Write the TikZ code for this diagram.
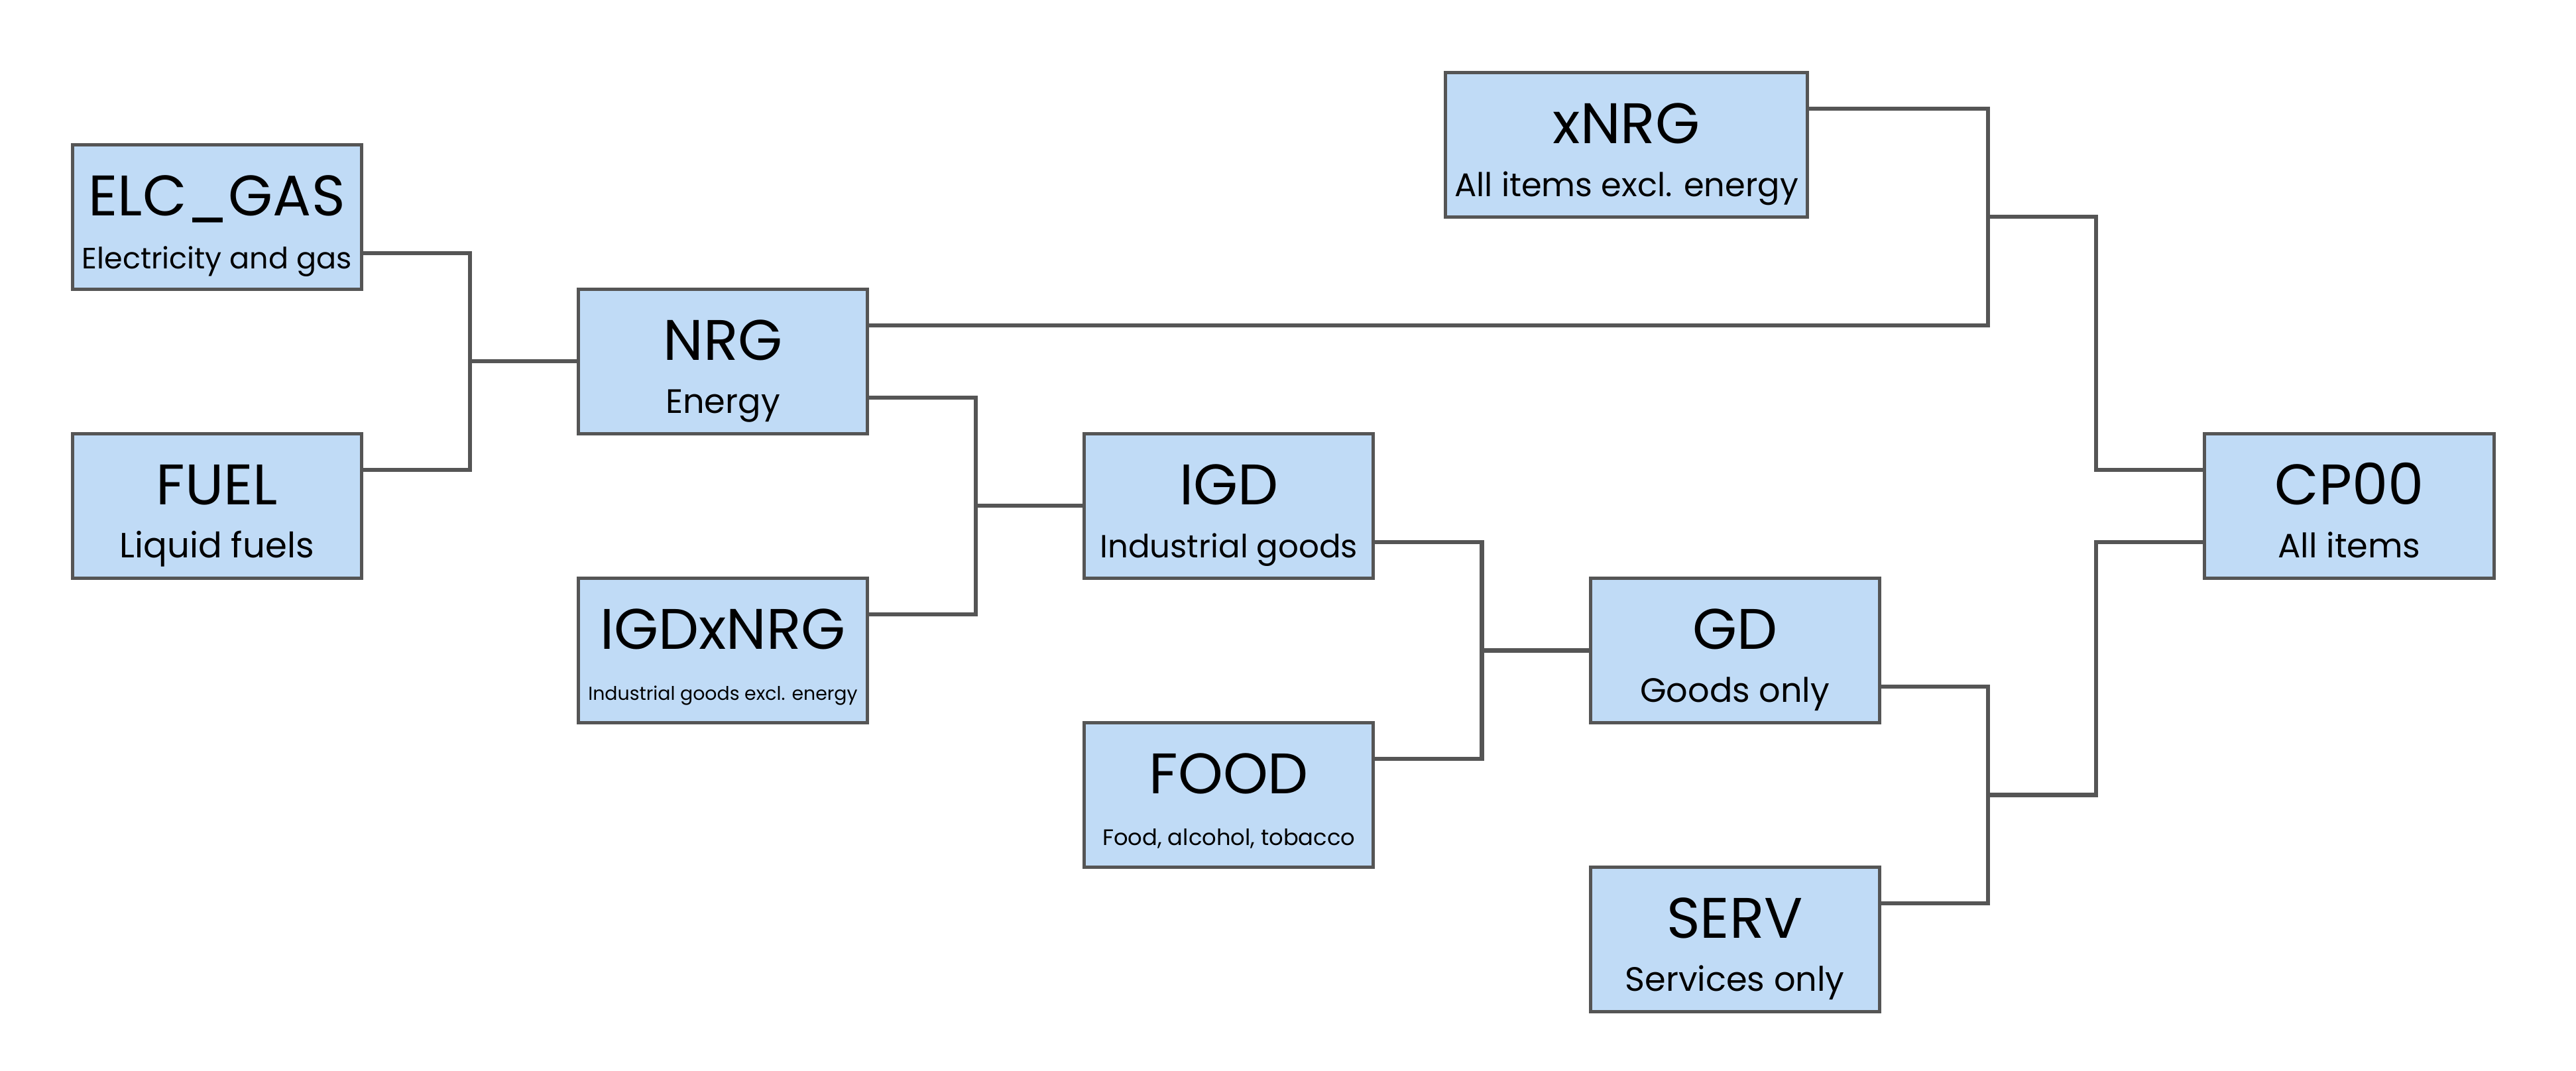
\documentclass[tikz,border=0pt]{standalone}
\usepackage{fontspec}
\setmainfont{Poppins}
\usetikzlibrary{calc}
\definecolor{boxfill}{HTML}{C0DBF6}
\definecolor{edgegray}{HTML}{555555}
\tikzset{
  catbox/.style={draw=edgegray, line width=1.3pt, fill=boxfill, minimum width=4cm, minimum height=2cm, inner sep=0pt, outer sep=0pt},
  widebox/.style={minimum width=5cm},
  ttl/.style={anchor=base, inner sep=0pt, font=\fontsize{22.5}{26}\selectfont},
  sub/.style={anchor=base, inner sep=0pt, font=\fontsize{13.3}{15}\selectfont},
  link/.style={draw=edgegray, line width=1.6pt}
}
\begin{document}
\begin{tikzpicture}[x=0.5cm,y=-0.5cm]
\useasboundingbox (0,0) rectangle (71.2727,29.636);
% boxes
\node[catbox] (elc)  at (6,6)  {};
\node[catbox] (fuel) at (6,14) {};
\node[catbox] (nrg)  at (20,10) {};
\node[catbox] (igdx) at (20,18) {};
\node[catbox] (igd)  at (34,14) {};
\node[catbox] (food) at (34,22) {};
\node[catbox] (gd)   at (48,18) {};
\node[catbox] (serv) at (48,26) {};
\node[catbox,widebox] (xnrg) at (45,4) {};
\node[catbox] (cp)   at (65,14) {};
% titles
\node[ttl] (elct)  at ($(elc.north)+(0,1.97)$)  {ELC\_GAS};
\node[ttl] (fuelt) at ($(fuel.north)+(0,1.97)$) {FUEL};
\node[ttl] (nrgt)  at ($(nrg.north)+(0,1.97)$)  {NRG};
\node[ttl] (igdxt) at ($(igdx.north)+(0,1.97)$) {IGDxNRG};
\node[ttl] (igdt)  at ($(igd.north)+(0,1.97)$)  {IGD};
\node[ttl] (foodt) at ($(food.north)+(0,1.97)$) {FOOD};
\node[ttl] (gdt)   at ($(gd.north)+(0,1.97)$)   {GD};
\node[ttl] (servt) at ($(serv.north)+(0,1.97)$) {SERV};
\node[ttl] (xnrgt) at ($(xnrg.north)+(0,1.97)$) {xNRG};
\node[ttl] (cpt)   at ($(cp.north)+(0,1.97)$)   {CP00};
% subtitles
\node[sub,font=\fontsize{11.6}{13}\selectfont] (elcs) at ($(elc.north)+(0,3.43)$) {Electricity and gas};
\node[sub,font=\fontsize{13.8}{15}\selectfont] (fuels) at ($(fuel.north)+(0,3.43)$) {Liquid fuels};
\node[sub] (nrgs)  at ($(nrg.north)+(0,3.43)$)  {Energy};
\node[sub,font=\fontsize{7.4}{8}\selectfont] (igdxs) at ($(igdx.north)+(0,3.38)$) {Industrial goods excl. energy};
\node[sub,font=\fontsize{12.6}{14}\selectfont] (igds) at ($(igd.north)+(0,3.43)$) {Industrial goods};
\node[sub,font=\fontsize{8.8}{10}\selectfont] (foods) at ($(food.north)+(0,3.39)$) {Food, alcohol, tobacco};
\node[sub] (gds)   at ($(gd.north)+(0,3.43)$)   {Goods only};
\node[sub] (servs) at ($(serv.north)+(0,3.43)$) {Services only};
\node[sub,font=\fontsize{12.9}{15}\selectfont] (xnrgs) at ($(xnrg.north)+(0,3.43)$) {All items excl. energy};
\node[sub] (cps)   at ($(cp.north)+(0,3.43)$)   {All items};
% junctions
\coordinate (j1) at (13,10);
\coordinate (j2) at (27,14);
\coordinate (j3) at (41,18);
\coordinate (j4) at (55,22);
\coordinate (j5) at (55,6);
% connectors
\draw[link] ($(elc.east)+(0,1)$) -| (j1) |- ($(fuel.east)+(0,-1)$);
\draw[link] (j1) -- (nrg.west);
\draw[link] ($(nrg.east)+(0,1)$) -| (j2) |- ($(igdx.east)+(0,-1)$);
\draw[link] (j2) -- (igd.west);
\draw[link] ($(igd.east)+(0,1)$) -| (j3) |- ($(food.east)+(0,-1)$);
\draw[link] (j3) -- (gd.west);
\draw[link] ($(gd.east)+(0,1)$) -| (j4) |- ($(serv.east)+(0,-1)$);
\draw[link] (j4) -| (58,18) |- ($(cp.west)+(0,1)$);
\draw[link] ($(nrg.east)+(0,-1)$) -| (j5) |- ($(xnrg.east)+(0,-1)$);
\draw[link] (j5) -| (58,10) |- ($(cp.west)+(0,-1)$);
\end{tikzpicture}
\end{document}
